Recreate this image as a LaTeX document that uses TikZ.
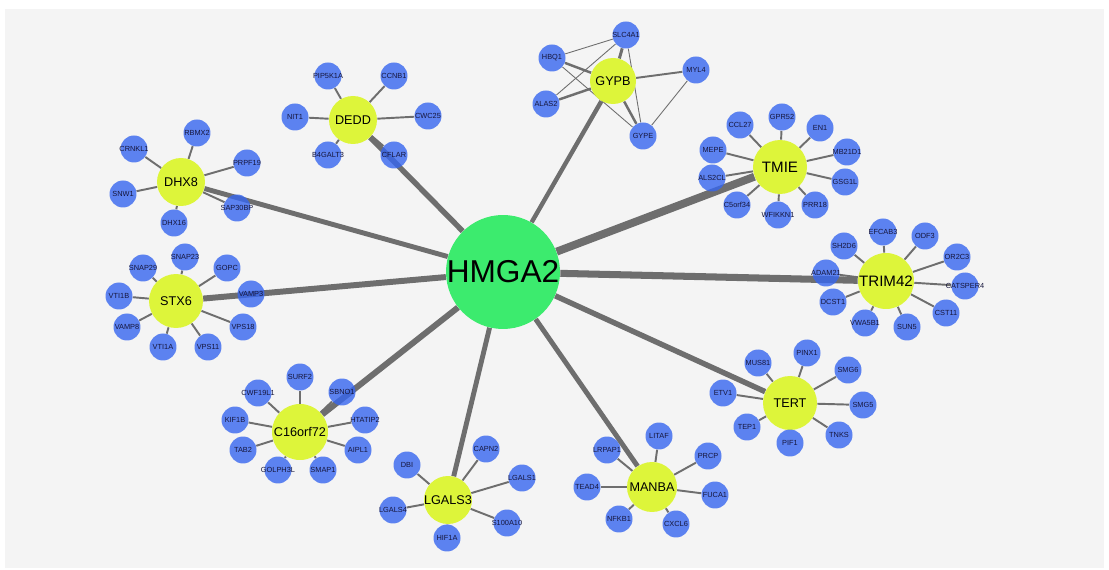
\documentclass[tikz,border=0pt]{standalone}
\usepackage{fontspec}
\setmainfont{Liberation Sans}
\pgfdeclarelayer{back}
\pgfsetlayers{back,main}
\definecolor{hubgreen}{RGB}{60,235,110}
\definecolor{knotyellow}{RGB}{221,245,58}
\definecolor{leafblue}{RGB}{54,102,239}
\definecolor{edgegray}{RGB}{110,110,110}
\definecolor{paper}{RGB}{244,244,244}
\definecolor{labelink}{RGB}{22,22,60}
\tikzset{
	gene/.style={circle, inner sep=0pt},
	hub/.style={gene, fill=hubgreen, minimum size=2.28cm, label={[font=\fontsize{18}{18}\selectfont]center:#1}},
	cluster/.style={gene, fill=knotyellow, label={[font=\fontsize{7.2}{8}\selectfont]center:#1}},
	bigcluster/.style={gene, fill=knotyellow, label={[font=\fontsize{8.6}{9}\selectfont]center:#1}},
	leaf/.style={gene, fill=leafblue, fill opacity=0.8, minimum size=0.54cm, label={[font=\fontsize{4.2}{5}\selectfont, text=labelink, text opacity=1, fill opacity=1]center:#1}},
	spoke/.style={draw=edgegray, line width=1.1pt},
	thread/.style={draw=edgegray, line width=0.5pt},
	trunk/.style={draw=edgegray, line width=#1}
}
\begin{document}
\begin{tikzpicture}[x=0.02cm, y=-0.02cm]
				\useasboundingbox (0,0) rectangle (1109,570);
				\begin{pgfonlayer}{back}
				\fill[white] (0,0) rectangle (1109,570);
				\fill[paper] (5,9) rectangle (1104,568);
				\end{pgfonlayer}
				\node[hub=HMGA2] (HMGA2) at (503,272) {};
				\node[cluster=DEDD, minimum size=0.96cm] (DEDD) at (353,120) {};
				\node[cluster=GYPB, minimum size=0.92cm] (GYPB) at (613,81) {};
				\node[cluster=DHX8, minimum size=0.96cm] (DHX8) at (181,182) {};
				\node[bigcluster=TMIE, minimum size=1.08cm] (TMIE) at (780,167) {};
				\node[cluster=STX6, minimum size=1.08cm] (STX6) at (176,301) {};
				\node[bigcluster=TRIM42, minimum size=1.12cm] (TRIM42) at (886,281) {};
				\node[cluster=C16orf72, minimum size=1.12cm] (C16orf72) at (300,432) {};
				\node[cluster=LGALS3, minimum size=0.96cm] (LGALS3) at (448,500) {};
				\node[cluster=MANBA, minimum size=1.0cm] (MANBA) at (652,487) {};
				\node[cluster=TERT, minimum size=1.08cm] (TERT) at (790,403) {};
				\node[leaf=PIP5K1A] (PIP5K1A) at (328,76) {};
				\node[leaf=CCNB1] (CCNB1) at (394,76) {};
				\node[leaf=NIT1] (NIT1) at (295,117) {};
				\node[leaf=CWC25] (CWC25) at (428,116) {};
				\node[leaf=B4GALT3] (B4GALT3) at (328,155) {};
				\node[leaf=CFLAR] (CFLAR) at (394,155) {};
				\node[leaf=SLC4A1] (SLC4A1) at (626,35) {};
				\node[leaf=HBQ1] (HBQ1) at (552,58) {};
				\node[leaf=MYL4] (MYL4) at (696,70) {};
				\node[leaf=ALAS2] (ALAS2) at (546,104) {};
				\node[leaf=GYPE] (GYPE) at (643,136) {};
				\node[leaf=RBMX2] (RBMX2) at (197,133) {};
				\node[leaf=CRNKL1] (CRNKL1) at (134,149) {};
				\node[leaf=PRPF19] (PRPF19) at (247,163) {};
				\node[leaf=SNW1] (SNW1) at (123,194) {};
				\node[leaf=SAP30BP] (SAP30BP) at (237,208) {};
				\node[leaf=DHX16] (DHX16) at (174,223) {};
				\node[leaf=GPR52] (GPR52) at (782,117) {};
				\node[leaf=CCL27] (CCL27) at (740,125) {};
				\node[leaf=EN1] (EN1) at (820,128) {};
				\node[leaf=MEPE] (MEPE) at (713,150) {};
				\node[leaf=MB21D1] (MB21D1) at (847,152) {};
				\node[leaf=ALS2CL] (ALS2CL) at (712,178) {};
				\node[leaf=GSG1L] (GSG1L) at (845,182) {};
				\node[leaf=C5orf34] (C5orf34) at (737,205) {};
				\node[leaf=PRR18] (PRR18) at (815,205) {};
				\node[leaf=WFIKKN1] (WFIKKN1) at (778,215) {};
				\node[leaf=SNAP23] (SNAP23) at (185,257) {};
				\node[leaf=SNAP29] (SNAP29) at (143,268) {};
				\node[leaf=GOPC] (GOPC) at (227,268) {};
				\node[leaf=VTI1B] (VTI1B) at (119,296) {};
				\node[leaf=VAMP3] (VAMP3) at (251,294) {};
				\node[leaf=VAMP8] (VAMP8) at (127,327) {};
				\node[leaf=VPS18] (VPS18) at (243,327) {};
				\node[leaf=VTI1A] (VTI1A) at (163,347) {};
				\node[leaf=VPS11] (VPS11) at (208,347) {};
				\node[leaf=EFCAB3] (EFCAB3) at (883,232) {};
				\node[leaf=ODF3] (ODF3) at (925,236) {};
				\node[leaf=SH2D6] (SH2D6) at (844,246) {};
				\node[leaf=OR2C3] (OR2C3) at (957,257) {};
				\node[leaf=ADAM21] (ADAM21) at (826,273) {};
				\node[leaf=CATSPER4] (CATSPER4) at (965,286) {};
				\node[leaf=DCST1] (DCST1) at (833,302) {};
				\node[leaf=CST11] (CST11) at (946,313) {};
				\node[leaf=VWA5B1] (VWA5B1) at (865,323) {};
				\node[leaf=SUN5] (SUN5) at (907,327) {};
				\node[leaf=SURF2] (SURF2) at (300,377) {};
				\node[leaf=CWF19L1] (CWF19L1) at (258,393) {};
				\node[leaf=SBNO1] (SBNO1) at (342,392) {};
				\node[leaf=KIF1B] (KIF1B) at (235,420) {};
				\node[leaf=HTATIP2] (HTATIP2) at (365,420) {};
				\node[leaf=TAB2] (TAB2) at (243,450) {};
				\node[leaf=AIPL1] (AIPL1) at (358,450) {};
				\node[leaf=GOLPH3L] (GOLPH3L) at (278,470) {};
				\node[leaf=SMAP1] (SMAP1) at (323,470) {};
				\node[leaf=CAPN2] (CAPN2) at (486,449) {};
				\node[leaf=DBI] (DBI) at (407,465) {};
				\node[leaf=LGALS1] (LGALS1) at (522,478) {};
				\node[leaf=LGALS4] (LGALS4) at (393,510) {};
				\node[leaf=S100A10] (S100A10) at (507,523) {};
				\node[leaf=HIF1A] (HIF1A) at (447,538) {};
				\node[leaf=LITAF] (LITAF) at (659,436) {};
				\node[leaf=LRPAP1] (LRPAP1) at (607,450) {};
				\node[leaf=PRCP] (PRCP) at (708,456) {};
				\node[leaf=TEAD4] (TEAD4) at (587,487) {};
				\node[leaf=FUCA1] (FUCA1) at (715,495) {};
				\node[leaf=NFKB1] (NFKB1) at (619,519) {};
				\node[leaf=CXCL6] (CXCL6) at (676,524) {};
				\node[leaf=PINX1] (PINX1) at (807,353) {};
				\node[leaf=MUS81] (MUS81) at (758,363) {};
				\node[leaf=SMG6] (SMG6) at (848,370) {};
				\node[leaf=ETV1] (ETV1) at (723,393) {};
				\node[leaf=SMG5] (SMG5) at (863,405) {};
				\node[leaf=TEP1] (TEP1) at (747,427) {};
				\node[leaf=TNKS] (TNKS) at (839,435) {};
				\node[leaf=PIF1] (PIF1) at (790,443) {};
				\begin{pgfonlayer}{back}
				\draw[spoke] (DEDD) -- (PIP5K1A);
				\draw[spoke] (DEDD) -- (CCNB1);
				\draw[spoke] (DEDD) -- (NIT1);
				\draw[spoke] (DEDD) -- (CWC25);
				\draw[spoke] (DEDD) -- (B4GALT3);
				\draw[spoke] (DEDD) -- (CFLAR);
				\draw[spoke, line width=1.7pt] (GYPB) -- (SLC4A1);
				\draw[spoke, line width=1.4pt] (GYPB) -- (HBQ1);
				\draw[spoke] (GYPB) -- (MYL4);
				\draw[spoke, line width=1.4pt] (GYPB) -- (ALAS2);
				\draw[spoke, line width=1.4pt] (GYPB) -- (GYPE);
				\draw[thread] (HBQ1) -- (SLC4A1);
				\draw[thread] (HBQ1) -- (GYPE);
				\draw[thread] (ALAS2) -- (SLC4A1);
				\draw[thread] (SLC4A1) -- (GYPE);
				\draw[thread] (MYL4) -- (GYPE);
				\draw[spoke] (DHX8) -- (RBMX2);
				\draw[spoke] (DHX8) -- (CRNKL1);
				\draw[spoke] (DHX8) -- (PRPF19);
				\draw[spoke] (DHX8) -- (SNW1);
				\draw[spoke] (DHX8) -- (SAP30BP);
				\draw[spoke] (DHX8) -- (DHX16);
				\draw[spoke] (TMIE) -- (GPR52);
				\draw[spoke] (TMIE) -- (CCL27);
				\draw[spoke] (TMIE) -- (EN1);
				\draw[spoke] (TMIE) -- (MEPE);
				\draw[spoke] (TMIE) -- (MB21D1);
				\draw[spoke] (TMIE) -- (ALS2CL);
				\draw[spoke] (TMIE) -- (GSG1L);
				\draw[spoke] (TMIE) -- (C5orf34);
				\draw[spoke] (TMIE) -- (PRR18);
				\draw[spoke] (TMIE) -- (WFIKKN1);
				\draw[spoke] (STX6) -- (SNAP23);
				\draw[spoke] (STX6) -- (SNAP29);
				\draw[spoke] (STX6) -- (GOPC);
				\draw[spoke] (STX6) -- (VTI1B);
				\draw[spoke] (STX6) -- (VAMP3);
				\draw[spoke] (STX6) -- (VAMP8);
				\draw[spoke] (STX6) -- (VPS18);
				\draw[spoke] (STX6) -- (VTI1A);
				\draw[spoke] (STX6) -- (VPS11);
				\draw[spoke] (TRIM42) -- (EFCAB3);
				\draw[spoke] (TRIM42) -- (ODF3);
				\draw[spoke] (TRIM42) -- (SH2D6);
				\draw[spoke] (TRIM42) -- (OR2C3);
				\draw[spoke] (TRIM42) -- (ADAM21);
				\draw[spoke] (TRIM42) -- (CATSPER4);
				\draw[spoke] (TRIM42) -- (DCST1);
				\draw[spoke] (TRIM42) -- (CST11);
				\draw[spoke] (TRIM42) -- (VWA5B1);
				\draw[spoke] (TRIM42) -- (SUN5);
				\draw[spoke] (C16orf72) -- (SURF2);
				\draw[spoke] (C16orf72) -- (CWF19L1);
				\draw[spoke] (C16orf72) -- (SBNO1);
				\draw[spoke] (C16orf72) -- (KIF1B);
				\draw[spoke] (C16orf72) -- (HTATIP2);
				\draw[spoke] (C16orf72) -- (TAB2);
				\draw[spoke] (C16orf72) -- (AIPL1);
				\draw[spoke] (C16orf72) -- (GOLPH3L);
				\draw[spoke] (C16orf72) -- (SMAP1);
				\draw[spoke] (LGALS3) -- (CAPN2);
				\draw[spoke] (LGALS3) -- (DBI);
				\draw[spoke] (LGALS3) -- (LGALS1);
				\draw[spoke] (LGALS3) -- (LGALS4);
				\draw[spoke] (LGALS3) -- (S100A10);
				\draw[spoke] (LGALS3) -- (HIF1A);
				\draw[spoke] (MANBA) -- (LITAF);
				\draw[spoke] (MANBA) -- (LRPAP1);
				\draw[spoke] (MANBA) -- (PRCP);
				\draw[spoke] (MANBA) -- (TEAD4);
				\draw[spoke] (MANBA) -- (FUCA1);
				\draw[spoke] (MANBA) -- (NFKB1);
				\draw[spoke] (MANBA) -- (CXCL6);
				\draw[spoke] (TERT) -- (PINX1);
				\draw[spoke] (TERT) -- (MUS81);
				\draw[spoke] (TERT) -- (SMG6);
				\draw[spoke] (TERT) -- (ETV1);
				\draw[spoke] (TERT) -- (SMG5);
				\draw[spoke] (TERT) -- (TEP1);
				\draw[spoke] (TERT) -- (TNKS);
				\draw[spoke] (TERT) -- (PIF1);
				\draw[trunk=4.5pt] (HMGA2) -- (TMIE);
				\draw[trunk=4pt] (HMGA2) -- (TRIM42);
				\draw[trunk=3.4pt] (HMGA2) -- (STX6);
				\draw[trunk=2.8pt] (HMGA2) -- (DHX8);
				\draw[trunk=3.1pt] (HMGA2) -- (DEDD);
				\draw[trunk=2.5pt] (HMGA2) -- (GYPB);
				\draw[trunk=3.4pt] (HMGA2) -- (C16orf72);
				\draw[trunk=2.8pt] (HMGA2) -- (LGALS3);
				\draw[trunk=2.8pt] (HMGA2) -- (MANBA);
				\draw[trunk=3.1pt] (HMGA2) -- (TERT);
				\end{pgfonlayer}
			\end{tikzpicture}
\end{document}
